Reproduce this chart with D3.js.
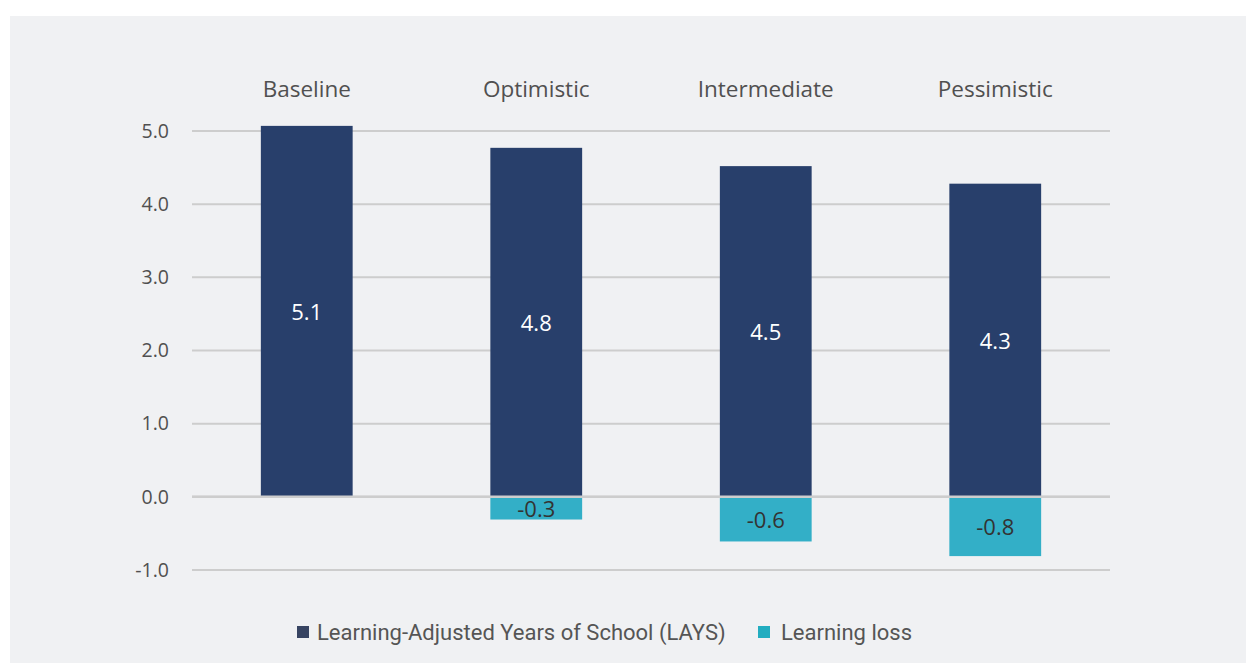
<!DOCTYPE html>
<html>
<head>
<meta charset="utf-8">
<script src="https://cdn.jsdelivr.net/npm/d3@7"></script>
<style>
  body { margin: 0; background: #ffffff; }
  svg { display: block; }
</style>
</head>
<body>
<main></main>
<script>
// values
const scenarios = ["Baseline", "Optimistic", "Intermediate", "Pessimistic"]
const lays = [5.07, 4.77, 4.52, 4.28]
const loss = [null, -0.31, -0.61, -0.81]
const yTicks = [-1, 0, 1, 2, 3, 4, 5]
const seriesNames = ["Learning-Adjusted Years of School (LAYS)", "Learning loss"]

const width = 1246
const height = 663

const darkBlue = "#283f6b"
const teal = "#33afc7"

// plain hyphen for negatives, like the original
let fmt = d => d.toFixed(1)

let svg = d3.select("main")
    .append("svg")
    .attr("width", width)
    .attr("height", height)

// panel background
svg.append("rect")
    .attr("x", 10)
    .attr("y", 16)
    .attr("width", width - 10)
    .attr("height", height - 16)
    .attr("fill", "#f0f1f3")

//scales
let xScale = d3.scaleBand()
    .domain(scenarios)
    .range([192, 1110])
    .paddingInner(0.6)
    .paddingOuter(0.3)

let yScale = d3.scaleLinear()
    .domain([-1, 5])
    .range([570, 131])

// gridlines
svg.append("g")
    .selectAll("line")
    .data(yTicks)
    .enter()
    .append("line")
    .attr("x1", 192)
    .attr("x2", 1110)
    .attr("y1", d => yScale(d))
    .attr("y2", d => yScale(d))
    .attr("stroke", "#cdcdcd")
    .attr("stroke-width", 2)

// y axis labels
let leftAxis = d3.axisLeft(yScale)
    .tickValues(yTicks)
    .tickFormat(fmt)
    .tickSize(0)
    .tickPadding(0)

let yAxis = svg.append("g")
    .attr("transform", "translate(169, 0)")
    .call(leftAxis)

yAxis.select(".domain").remove()
yAxis.selectAll("text")
    .attr("fill", "#505050")
    .style("font-family", "'Open Sans', sans-serif")
    .style("font-size", "19.5px")

// category labels on top
let topAxis = d3.axisTop(xScale).tickSize(0).tickPadding(0)
let xAxis = svg.append("g")
    .attr("transform", "translate(0, 97)")
    .call(topAxis)

xAxis.select(".domain").remove()
xAxis.selectAll("text")
    .attr("fill", "#505050")
    .style("font-family", "'Open Sans', sans-serif")
    .style("font-size", "22.5px")

// LAYS bars
let barData = scenarios.map((s, i) => ({name: s, lays: lays[i], loss: loss[i]}))

svg.append("g")
    .selectAll("rect")
    .data(barData)
    .enter()
    .append("rect")
    .attr("x", d => xScale(d.name))
    .attr("y", d => yScale(d.lays))
    .attr("width", xScale.bandwidth())
    .attr("height", d => yScale(0) - yScale(d.lays))
    .attr("fill", darkBlue)

// learning loss bars
let lossData = barData.filter(d => d.loss !== null)

svg.append("g")
    .selectAll("rect")
    .data(lossData)
    .enter()
    .append("rect")
    .attr("x", d => xScale(d.name))
    .attr("y", yScale(0))
    .attr("width", xScale.bandwidth())
    .attr("height", d => yScale(d.loss) - yScale(0))
    .attr("fill", teal)

// zero line over the bars
svg.append("line")
    .attr("x1", 192)
    .attr("x2", 1110)
    .attr("y1", yScale(0))
    .attr("y2", yScale(0))
    .attr("stroke", "#cdcdcd")
    .attr("stroke-width", 2.5)

// value labels
svg.append("g")
    .selectAll("text")
    .data(barData)
    .enter()
    .append("text")
    .attr("x", d => xScale(d.name) + xScale.bandwidth() / 2)
    .attr("y", d => yScale(d.lays / 2))
    .attr("dy", "0.4em")
    .attr("text-anchor", "middle")
    .attr("fill", "#ffffff")
    .style("font-family", "'Open Sans', sans-serif")
    .style("font-size", "22px")
    .text(d => fmt(d.lays))

svg.append("g")
    .selectAll("text")
    .data(lossData)
    .enter()
    .append("text")
    .attr("x", d => xScale(d.name) + xScale.bandwidth() / 2)
    .attr("y", d => yScale(d.loss / 2))
    .attr("dy", "0.4em")
    .attr("text-anchor", "middle")
    .attr("fill", "#333333")
    .style("font-family", "'Open Sans', sans-serif")
    .style("font-size", "22px")
    .text(d => fmt(d.loss))

// legend
let legendX = [297, 758]
let legendColors = ["#374462", "#22adc0"]

let legend = svg.append("g")
    .selectAll("g")
    .data(seriesNames)
    .enter()
    .append("g")
    .attr("transform", (d, i) => `translate(${legendX[i]}, 632)`)

legend.append("rect")
    .attr("x", 0)
    .attr("y", -6)
    .attr("width", 12)
    .attr("height", 12)
    .attr("fill", (d, i) => legendColors[i])

legend.append("text")
    .attr("x", (d, i) => i === 0 ? 20 : 23)
    .attr("y", 0)
    .attr("dy", "0.35em")
    .attr("fill", "#555555")
    .style("font-family", "Roboto, sans-serif")
    .style("font-size", "22px")
    .text(d => d)
</script>
</body>
</html>
